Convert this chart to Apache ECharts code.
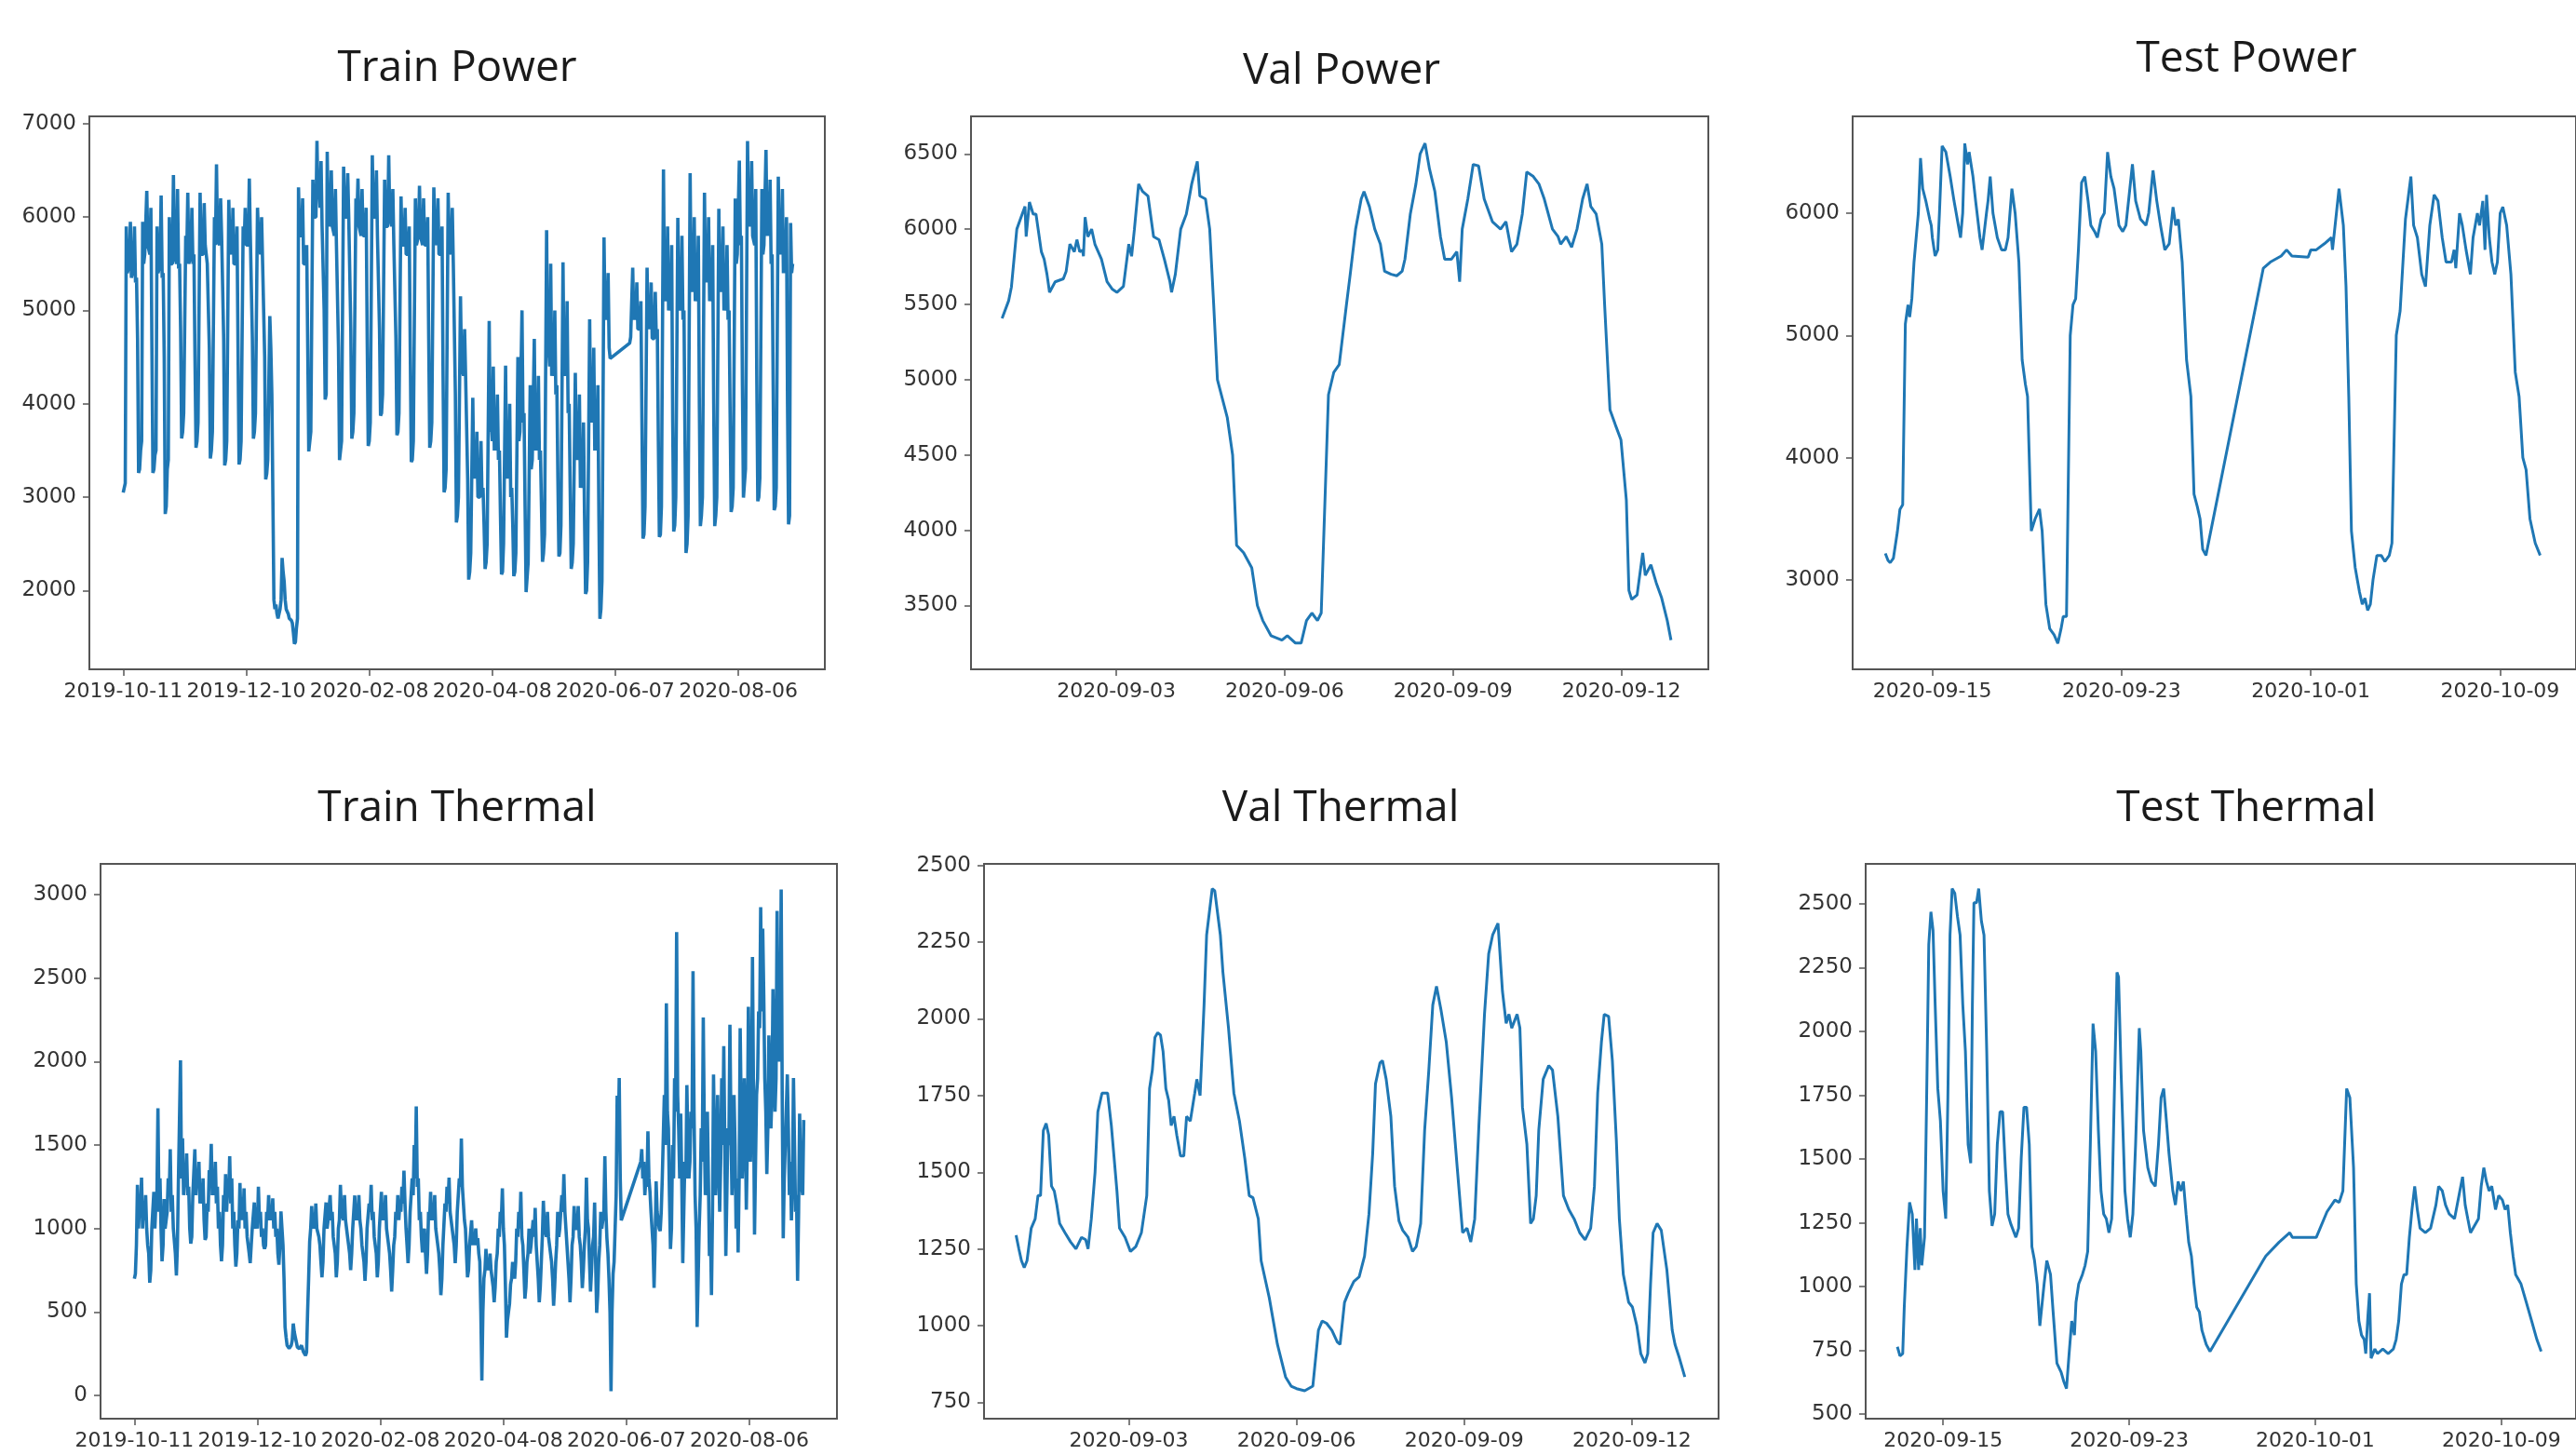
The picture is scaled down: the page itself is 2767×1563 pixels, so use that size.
<!DOCTYPE html>
<html><head><meta charset="utf-8">
<script src="https://cdn.jsdelivr.net/npm/echarts@6/dist/echarts.min.js"></script>
<style>html,body{margin:0;padding:0;background:#fff}#c{width:2767px;height:1563px}</style>
</head><body><div id="c"></div><script>
// ---------------- DATA ----------------
const trainStart = '2019-10-11';
const trainTicks = ['2019-10-11','2019-12-10','2020-02-08','2020-04-08','2020-06-07','2020-08-06'];
const valTicks = ['2020-09-03','2020-09-06','2020-09-09','2020-09-12'];
const testTicks = ['2020-09-15','2020-09-23','2020-10-01','2020-10-09'];

const trainPowerYTicks = [2000,3000,4000,5000,6000,7000];
const valPowerYTicks = [3500,4000,4500,5000,5500,6000,6500];
const testPowerYTicks = [3000,4000,5000,6000];
const trainThermalYTicks = [0,500,1000,1500,2000,2500,3000];
const valThermalYTicks = [750,1000,1250,1500,1750,2000,2250,2500];
const testThermalYTicks = [500,750,1000,1250,1500,1750,2000,2250,2500];

// Train: two readings per day (night = start of day, day = midday).
// Part A = days 0..237, part B = days 247..326 (gap in the record).
const trainGapEndDay = 247;
const trainPowerDayA = [
3100,5900,5450,5950,5400,5900,5350,3260,3500,5950,
5600,6280,5700,6100,3260,3450,5900,5450,6230,5400,
2820,3300,6000,5500,6450,5600,6300,5500,3630,3900,
5800,6260,5500,6100,5600,3530,3800,6260,5600,6150,
5700,5500,3415,3700,6000,6566,5750,6200,5800,3340,
3600,6185,5700,6100,5500,5900,3350,3600,5900,6100,
5700,6413,5800,3626,3900,6100,5800,6000,5500,3190,
3400,4940,4100,1900,1850,1700,1800,2350,2100,1800,
1750,1700,1650,1430,1600,6318,5800,6200,5500,5700,
3490,3700,6400,6000,6817,6300,6600,5900,4046,6700,
6000,6500,5900,6300,5700,3396,3600,6540,6000,6470,
6015,3626,3900,6200,6413,5900,6300,5800,6100,3549,
3800,6662,6000,6500,5800,3873,4100,6400,5900,6662,
6000,6300,5700,3664,3900,6222,5700,6100,5600,5900,
3377,3600,6200,5700,6337,5800,6200,5700,6000,3530,
3800,6318,5800,6200,5600,5900,3053,3300,6260,5700,
6100,5500,2728,3000,5153,4400,4800,4300,2117,2400,
4065,3300,3700,3000,3600,3100,2232,2500,4887,3800,
4400,3600,4100,3500,2173,2500,4408,3300,4000,3100,
2154,2400,4500,3700,5001,3900,1983,2300,4200,3400,
4695,3600,4300,3500,2307,2600,5859,4600,5500,4400,
5000,4200,2365,2700,5516,4400,5100,4000,2232,2500,
4332,3500,4100,3200,3800,1964,2300,4905,3900,4600,
3600,4200,1697,2100,5783,5000,5400,4485];
const trainPowerNightA = [
3050,3150,5400,5500,5350,5450,5300,4700,3300,3600,
5500,5600,5700,5600,4600,3300,3500,5400,5500,5350,
4500,2900,3400,5500,5500,5600,5500,5450,4800,3700,
3900,5600,5500,5600,5500,4500,3600,3800,5600,5600,
5700,5500,4600,3500,3700,5700,5750,5700,5800,4700,
3400,3600,5700,5600,5500,5500,4600,3400,3600,5700,
5700,5700,5800,4700,3700,3900,5800,5600,5500,4500,
3250,3400,4600,3000,1800,1750,1700,1900,2200,1900,
1800,1700,1680,1550,1450,1700,5800,5800,5500,5500,
4600,3500,3700,6000,6000,6200,6100,5900,5000,4100,
6000,5900,5900,5800,5700,4600,3400,3600,6000,6000,
6000,4800,3700,3900,6000,5900,5800,5800,5800,4700,
3600,3800,6000,6000,5800,4800,3900,4100,5900,5900,
6000,5900,5700,4700,3700,3900,5700,5700,5600,5600,
4600,3400,3600,5700,5800,5800,5700,5700,5700,4700,
3600,3800,5800,5700,5600,5600,4300,3100,3300,5700,
5600,5500,4100,2800,3000,4400,4300,4300,3200,2200,
2400,3200,3200,3000,3000,3000,2700,2300,2500,3700,
3600,3500,3500,3400,2800,2200,2500,3200,3200,3000,
2700,2200,2400,3600,3700,3800,2900,2000,2300,3300,
3400,3500,3500,3400,2900,2400,2600,4500,4400,4300,
4300,4100,3200,2400,2700,4300,4300,3900,3100,2300,
2500,3400,3400,3100,3100,2800,2000,2300,3800,3800,
3500,3500,2800,1800,2100,4900,4900,4600];
const trainPowerDayB = [
4714,5459,5000,5300,4800,5100,2556,2900,5459,4900,
5300,4700,5200,4800,2575,2900,6511,5200,5900,5100,
5700,2633,3000,5993,5100,5800,5000,2403,2800,6471,
5300,6000,5200,5800,2690,3000,6260,5400,6000,5200,
5700,2690,3000,6089,5300,5900,5100,5700,5000,2842,
3100,6200,5600,6605,5800,2995,3300,6815,6000,6600,
5800,6300,2957,3200,6300,5700,6720,5900,6400,5600,
2861,3100,6433,5700,6300,5500,6000,2708,5936,5500];
const trainPowerNightB = [
4650,4700,4900,4900,4800,4800,3800,2600,2900,4800,
4800,4700,4700,4700,3600,2600,2900,5100,5100,5000,
5000,3800,2700,3000,5000,5000,4900,3600,2500,2800,
5200,5200,5100,5100,4000,2800,3000,5300,5300,5100,
5100,4000,2800,3000,5200,5200,5000,5000,4900,3900,
2900,3100,5500,5600,5700,4200,3000,3300,5900,5900,
5800,5700,4300,3000,3200,5600,5700,5800,5800,5500,
4200,2900,3100,5600,5600,5400,5400,4000,2800,5400];

const trainThermalDayA = [
729,1262,1134,1305,1150,1200,900,676,1000,1220,
1150,1720,1300,804,1177,1050,1300,1475,1200,1000,
719,1300,2008,1540,1305,1450,1250,910,1200,1475,
1326,1400,1200,1300,932,1150,1350,1507,1305,1400,
1250,1100,804,1200,1326,1250,1433,1300,1100,772,
1050,1273,1150,1241,1100,900,793,1000,1156,1050,
1251,1100,1000,878,1100,1200,1134,1180,1100,1000,
783,1102,900,410,300,282,300,431,350,290,
280,300,260,239,500,921,1134,1050,1150,1000,
900,708,1000,1156,1050,1200,1100,950,708,1000,
1262,1100,1200,1050,900,751,1000,1198,1100,1200,
1000,850,687,1000,1150,1262,1100,950,708,1000,
1220,1100,1200,1000,850,623,900,1100,1200,1150,
1250,1347,1000,793,1100,1300,1500,1731,1300,1100,
857,1000,729,1100,1220,1100,1200,1000,850,601,
900,1150,1250,1305,1100,1000,793,1100,1300,1539,
1250,1000,708,900,1049,950,1000,942,800,90,
700,878,800,850,750,559,800,1000,1100,1241,
900,346,500,665,800,700,1000,1100,1220,900,
580,800,1000,900,1050,1124,800,559,800,1166,
1000,1100,950,800,538,800,1100,1000,1200,1326,
1000,800,559,900,1134,1000,1134,900,644,900,
1305,1000,623,900,1156,495,800,1100,1000,1433,
942,700,26,729,1000,1795,1901,1049];
const trainThermalNightA = [
700,900,1000,1100,1000,1050,1000,850,750,1000,
1000,1200,1100,1000,900,1000,1100,1200,1100,1000,
850,900,1300,1300,1200,1250,1200,1000,950,1200,
1200,1250,1150,1150,1050,950,1100,1300,1200,1200,
1150,1000,900,900,1100,1100,1200,1150,1000,900,
850,1000,1050,1050,1000,950,850,900,1000,1000,
1000,1050,950,900,900,1050,1050,1050,1000,950,
850,900,1000,700,350,290,280,330,380,320,
280,290,280,250,260,700,1000,1000,1000,1000,
950,800,800,1000,1000,1050,1050,950,850,800,
1050,1100,1050,1050,950,850,850,1000,1050,1050,
1050,900,800,800,1000,1100,1050,950,850,800,
1000,1050,1050,1000,900,750,750,950,1050,1050,
1100,1150,1150,900,900,1100,1200,1300,1250,1050,
950,850,850,850,1050,1050,1050,1000,900,750,
700,900,1100,1150,1100,1000,900,900,1100,1250,
1250,1050,850,750,900,900,900,900,850,500,
500,750,750,750,750,650,650,850,950,1050,
1000,650,450,550,700,750,800,950,1000,950,
750,650,850,850,900,950,900,700,650,950,
1000,950,950,850,700,650,900,950,1000,1100,
1100,900,700,700,950,1000,1000,950,800,750,
1000,1050,800,750,950,800,600,900,1000,1100,
1100,850,500,500,800,1200,1500,1300];
const trainThermalDayB = [
1475,1400,1300,1582,1220,1000,644,1283,1100,985,
1300,1800,2349,1600,878,1500,1900,2775,1600,1688,
793,1400,1859,1300,1700,2541,1200,410,1000,1600,
2264,1200,1700,836,601,1923,1200,1800,1100,1900,
2093,836,1600,2221,1200,1800,1000,857,2200,1300,
1900,1113,2328,1400,2626,964,1800,2300,2924,2796,
1900,1326,2157,1600,2434,1700,2903,2000,3031,942,
1500,1923,1200,1049,1901,1100,687,1688,1300,1650];
const trainThermalNightB = [
1400,1300,1200,1250,1300,1100,900,900,1100,1000,
1100,1300,1500,1700,1200,1000,1300,1700,1800,1300,
1300,1100,1300,1500,1400,1600,1700,1000,700,1200,
1400,1600,1400,1300,1000,1100,1500,1400,1400,1400,
1500,1500,1200,1500,1600,1400,1500,1300,1300,1700,
1500,1600,1500,1900,1700,1800,1400,1900,2200,2300,
2400,1700,1600,1900,1800,2100,1900,2100,2100,1800,
1300,1500,1600,1400,1300,1500,1200,1100,1300,1200];

// Val / Test: [hours since series start, value]
const valPowerStart = '2020-08-31T23:08:00Z';
const valPower = [[0,5407],[2.8,5524],[4.0,5616],[6.3,6000],[8.6,6100],[9.8,6150],[10.3,5950],[11.7,6180],[13.3,6100],[14.5,6100],[16.8,5850],[18.0,5800],[19.2,5700],[20.3,5580],[22.7,5650],[26.2,5670],[27.4,5720],[29.0,5900],[30.9,5850],[32.0,5930],[33.2,5850],[34.4,5860],[34.8,5820],[35.5,6080],[36.7,5950],[38.3,6000],[39.7,5900],[42.5,5800],[44.9,5650],[47.2,5600],[49.1,5580],[51.9,5620],[54.2,5900],[55.4,5820],[56.6,6000],[58.4,6300],[60.1,6250],[62.4,6220],[64.8,5950],[67.1,5930],[69.4,5800],[71.8,5650],[72.5,5580],[74.1,5700],[76.4,6000],[78.8,6100],[81.1,6300],[83.5,6450],[84.6,6220],[87.0,6200],[88.8,6000],[90.5,5500],[92.1,5000],[96.3,4750],[98.6,4500],[100.3,3900],[103.3,3850],[106.8,3750],[109.2,3500],[111.5,3400],[115.0,3300],[119.7,3270],[122.0,3300],[125.5,3250],[127.9,3250],[130.2,3400],[132.5,3450],[134.9,3400],[136.5,3450],[139.6,4900],[141.9,5050],[144.2,5100],[147.3,5500],[148.9,5700],[151.2,6000],[153.6,6200],[154.8,6250],[157.1,6150],[159.4,6000],[161.8,5900],[163.6,5720],[166.4,5700],[168.8,5690],[171.1,5720],[172.3,5800],[174.6,6100],[177.0,6300],[178.8,6500],[180.9,6570],[182.8,6400],[185.1,6250],[187.5,5950],[189.3,5800],[192.2,5800],[194.5,5850],[195.7,5650],[196.8,6000],[199.2,6200],[201.5,6430],[203.8,6420],[206.2,6200],[209.7,6050],[213.2,6000],[215.5,6050],[217.9,5850],[220.2,5900],[222.5,6100],[224.4,6380],[227.2,6350],[229.6,6300],[231.9,6200],[235.4,6000],[237.8,5950],[238.9,5900],[241.3,5950],[243.6,5880],[245.9,6000],[248.3,6200],[250.2,6300],[251.8,6150],[254.1,6100],[256.5,5900],[257.7,5500],[260.0,4800],[262.3,4700],[264.7,4600],[267.0,4200],[268.1,3600],[269.3,3540],[271.6,3570],[274.0,3850],[275.1,3700],[277.5,3770],[279.8,3650],[282.1,3550],[284.5,3400],[286.1,3270]];

const valThermalStart = '2020-08-31T23:36:00Z';
const valThermal = [[0,1295],[1.2,1250],[2.3,1212],[3.5,1189],[4.7,1212],[6.5,1318],[8.2,1348],[9.4,1424],[10.5,1424],[11.7,1636],[12.9,1659],[14.0,1621],[15.2,1455],[16.4,1439],[17.5,1394],[18.7,1333],[21.0,1303],[23.4,1273],[25.7,1250],[28.1,1288],[29.9,1280],[30.9,1250],[32.3,1348],[33.9,1500],[35.1,1697],[36.9,1758],[39.3,1758],[40.9,1652],[43.3,1439],[44.4,1318],[46.8,1288],[49.1,1242],[51.4,1258],[53.8,1303],[56.1,1424],[57.3,1773],[58.5,1833],[59.6,1939],[60.8,1955],[62.0,1947],[63.1,1894],[64.3,1773],[65.5,1735],[66.6,1652],[67.8,1682],[69.0,1621],[70.6,1553],[72.0,1553],[73.2,1682],[74.8,1667],[76.7,1758],[77.6,1803],[79.0,1750],[80.7,2045],[81.8,2273],[84.2,2424],[85.3,2417],[87.7,2273],[88.8,2152],[91.2,1970],[93.5,1758],[95.9,1667],[98.2,1545],[100.1,1424],[101.7,1417],[104.0,1348],[105.2,1212],[108.7,1091],[112.2,939],[115.7,833],[118.1,803],[120.4,795],[123.9,788],[127.4,803],[129.8,985],[131.4,1015],[133.3,1008],[135.6,985],[137.9,947],[139.1,939],[141.0,1076],[142.6,1106],[145.0,1144],[147.3,1159],[149.6,1227],[151.5,1364],[153.1,1561],[154.3,1788],[156.2,1856],[157.3,1864],[158.9,1803],[160.9,1682],[162.5,1455],[164.4,1341],[166.0,1311],[168.3,1288],[170.2,1242],[171.8,1258],[173.7,1333],[175.4,1636],[177.2,1833],[178.9,2045],[180.5,2106],[182.4,2030],[184.7,1924],[187.0,1742],[189.4,1515],[191.7,1303],[193.6,1318],[195.2,1273],[196.9,1348],[198.7,1652],[201.1,2015],[202.9,2212],[204.6,2273],[206.9,2311],[208.8,2091],[210.4,1985],[211.6,2015],[212.8,1970],[215.1,2015],[216.3,1970],[217.4,1712],[219.3,1591],[220.9,1333],[222.1,1348],[223.3,1424],[224.4,1636],[226.3,1803],[228.7,1848],[230.3,1833],[232.6,1682],[235.0,1424],[237.3,1379],[239.6,1348],[242.0,1303],[244.3,1280],[246.7,1318],[248.3,1455],[249.7,1758],[251.3,1924],[252.5,2015],[254.4,2008],[256.0,1864],[257.7,1606],[259.0,1348],[260.7,1167],[263.0,1076],[264.6,1061],[266.5,1000],[268.2,909],[270.0,879],[271.2,909],[272.4,1136],[273.5,1303],[275.2,1333],[277.0,1311],[279.4,1182],[281.7,985],[282.9,939],[284.8,894],[287.1,833]];

const testPowerStart = '2020-09-13T00:18:00Z';
const testPower = [[0,3216],[2.7,3159],[4.9,3140],[8.2,3178],[12.1,3387],[14.8,3576],[17.6,3614],[20.3,5093],[23.0,5250],[24.7,5150],[26.9,5300],[29.1,5600],[31.3,5800],[33.5,6000],[35.7,6450],[37.9,6200],[41.1,6100],[45.0,5950],[46.6,5900],[47.7,5800],[50.5,5650],[53.2,5700],[54.9,6000],[57.6,6550],[61.4,6500],[65.8,6300],[69.7,6100],[74.1,5900],[76.3,5800],[78.5,6000],[80.6,6570],[83.4,6400],[85.0,6500],[88.9,6300],[91.6,6100],[96.0,5800],[98.2,5700],[99.8,5700],[102.6,6000],[104.2,6100],[106.4,6300],[109.2,6000],[113.6,5800],[117.9,5700],[121.8,5700],[124.5,5800],[128.4,6200],[131.7,6000],[135.5,5600],[138.8,4800],[142.1,4600],[144.3,4500],[148.1,3400],[152.0,3500],[156.4,3580],[159.1,3400],[162.9,2800],[166.8,2600],[171.2,2550],[175.0,2480],[178.3,2600],[180.5,2700],[183.8,2700],[187.6,5000],[190.4,5250],[193.1,5300],[195.9,5700],[199.1,6250],[202.4,6300],[205.7,6100],[208.5,5900],[212.3,5850],[215.1,5800],[218.9,5950],[222.2,6000],[225.5,6500],[228.8,6300],[232.1,6200],[237.0,5900],[240.8,5850],[244.1,5900],[250.7,6400],[254.0,6100],[258.9,5950],[264.4,5900],[267.2,6000],[271.6,6350],[275.4,6100],[279.2,5900],[283.6,5700],[288.0,5750],[291.9,6050],[294.6,5900],[297.3,5950],[301.2,5600],[305.6,4800],[310.0,4500],[313.2,3700],[316.5,3600],[319.3,3500],[322.0,3250],[325.3,3200],[383.5,5550],[390.6,5600],[401.6,5650],[407.1,5700],[412.5,5650],[429.0,5640],[431.7,5700],[437.2,5700],[445.5,5750],[452.6,5800],[453.7,5700],[460.3,6200],[464.7,5900],[467.4,5400],[470.2,4500],[472.9,3400],[476.7,3100],[478.9,3000],[481.1,2900],[483.9,2800],[486.6,2850],[489.4,2750],[492.1,2800],[494.8,3000],[498.7,3200],[503.1,3200],[506.9,3150],[511.3,3200],[514.0,3300],[518.4,5000],[522.3,5200],[527.7,5950],[533.2,6300],[536.0,5900],[539.8,5800],[544.2,5500],[548.0,5400],[552.4,5900],[556.8,6150],[560.7,6100],[565.0,5800],[568.9,5600],[574.4,5600],[577.1,5700],[578.8,5550],[582.6,6000],[585.4,5900],[589.2,5700],[593.6,5500],[596.3,5800],[600.7,6000],[602.9,5900],[606.2,6100],[608.4,5700],[610.0,6150],[612.8,5800],[615.5,5600],[618.3,5500],[621.0,5600],[623.8,6000],[626.5,6050],[630.4,5900],[634.7,5500],[639.1,4700],[643.0,4500],[646.8,4000],[650.1,3900],[654.0,3500],[659.4,3300],[664.4,3200]];

const testThermalStart = '2020-09-13T00:48:00Z';
const testThermal = [[0,764],[2.7,728],[5.5,737],[7.1,919],[9.9,1156],[12.6,1330],[15.4,1284],[18.1,1065],[19.7,1266],[21.9,1065],[23.6,1229],[25.2,1083],[28.0,1193],[30.2,1740],[32.4,2341],[34.6,2469],[36.8,2396],[39.0,2104],[41.7,1776],[44.4,1649],[47.2,1375],[49.9,1266],[52.1,1740],[54.3,2378],[56.5,2560],[59.2,2542],[62.0,2451],[64.7,2378],[67.5,2104],[70.2,1922],[73.0,1557],[75.7,1484],[77.4,2104],[79.0,2505],[81.7,2505],[83.9,2560],[86.7,2433],[89.4,2378],[92.2,1922],[94.9,1375],[97.7,1238],[100.4,1284],[103.1,1557],[105.9,1685],[108.6,1685],[111.4,1466],[114.1,1284],[116.9,1247],[122.3,1193],[125.1,1229],[127.8,1503],[130.6,1703],[133.3,1703],[136.1,1557],[138.8,1156],[141.5,1102],[144.3,1010],[147.0,846],[148.7,846],[151.4,1010],[154.2,1102],[158.0,1047],[160.7,901],[164.6,700],[169.0,664],[171.7,628],[174.5,600],[177.2,737],[179.9,865],[182.7,810],[184.3,938],[187.1,1010],[190.9,1047],[193.7,1083],[196.4,1138],[199.1,1557],[201.9,2031],[204.6,1922],[207.4,1612],[210.1,1375],[212.9,1284],[215.6,1266],[218.3,1211],[221.1,1266],[223.8,1740],[226.6,2232],[228.2,2214],[230.9,1831],[234.8,1375],[237.5,1266],[240.3,1193],[243.0,1284],[245.8,1557],[249.6,2013],[251.2,1922],[254.0,1612],[258.4,1466],[262.2,1412],[266.1,1393],[269.4,1557],[272.1,1740],[274.8,1776],[277.6,1649],[280.3,1521],[284.2,1375],[286.9,1320],[289.7,1412],[292.4,1375],[295.1,1412],[297.9,1284],[300.6,1174],[303.4,1120],[306.1,1010],[308.9,919],[311.6,901],[314.3,828],[318.7,773],[322.6,746],[377.4,1102],[380.2,1120],[393.9,1174],[404.9,1211],[407.6,1193],[418.6,1193],[432.3,1193],[443.3,1293],[451.5,1339],[455.9,1330],[459.7,1375],[463.6,1776],[466.9,1740],[470.7,1466],[473.5,1010],[476.2,865],[478.9,810],[481.7,792],[483.3,737],[485.5,883],[487.2,974],[488.8,719],[492.7,755],[495.4,737],[500.9,755],[506.4,737],[511.8,755],[514.6,792],[517.3,865],[520.1,1010],[522.8,1047],[525.5,1047],[528.3,1193],[531.0,1302],[533.8,1393],[536.5,1302],[539.3,1229],[544.8,1211],[550.2,1229],[555.7,1320],[558.5,1393],[562.3,1375],[565.6,1320],[569.5,1284],[574.9,1266],[580.4,1375],[583.2,1430],[585.9,1320],[588.6,1266],[591.4,1211],[594.1,1229],[599.6,1266],[602.4,1393],[605.1,1466],[607.8,1412],[610.6,1375],[613.3,1393],[617.2,1302],[620.5,1357],[624.3,1339],[627.1,1302],[629.8,1320],[632.5,1211],[635.3,1120],[638.0,1047],[643.5,1010],[649.0,938],[654.5,865],[659.9,792],[664.3,746]];

// ---------------- HELPERS ----------------
const DAY = 86400000, HOUR = 3600000;
function utc(s){ return Date.parse(s.length === 10 ? s + 'T00:00:00Z' : s); }
function twiceDaily(startISO, firstDay, night, day){
  const t0 = utc(startISO) + firstDay * DAY, out = [];
  for (let i = 0; i < day.length; i++){ out.push([t0 + i*DAY, night[i]]); out.push([t0 + (i + 0.5)*DAY, day[i]]); }
  return out;
}
function hourly(baseISO, pairs){ const t0 = utc(baseISO); return pairs.map(p=>[t0 + p[0]*HOUR, p[1]]); }
function fmtDate(v){ const d = new Date(v); const p = n => String(n).padStart(2,'0'); return d.getUTCFullYear() + '-' + p(d.getUTCMonth()+1) + '-' + p(d.getUTCDate()); }

const panels = [
  {title:'Train Power', tx:486, ty:46, g:[96,125,790,594], ticks:trainTicks, xr:[-16.5,342.2], yr:[1156,7079], yt:trainPowerYTicks, lw:3.6,
   data: twiceDaily(trainStart,0,trainPowerNightA,trainPowerDayA).concat(twiceDaily(trainStart,trainGapEndDay,trainPowerNightB,trainPowerDayB))},
  {title:'Val Power', tx:1436, ty:49, g:[1043,125,792,594], ticks:valTicks, xr:[-2.59,10.55], yr:[3076,6749], yt:valPowerYTicks, lw:3,
   data: hourly(valPowerStart,valPower)},
  {title:'Test Power', tx:2408, ty:36, g:[1990,125,787,594], ticks:testTicks, xr:[-3.37,27.21], yr:[2268,6792], yt:testPowerYTicks, lw:3,
   data: hourly(testPowerStart,testPower)},
  {title:'Train Thermal', tx:486, ty:841, g:[108,928,791,596], ticks:trainTicks, xr:[-16.5,342.7], yr:[-139,3184], yt:trainThermalYTicks, lw:3.6,
   data: twiceDaily(trainStart,0,trainThermalNightA,trainThermalDayA).concat(twiceDaily(trainStart,trainGapEndDay,trainThermalNightB,trainThermalDayB))},
  {title:'Val Thermal', tx:1435, ty:841, g:[1057,928,789,596], ticks:valTicks, xr:[-2.59,10.55], yr:[697,2505], yt:valThermalYTicks, lw:3,
   data: hourly(valThermalStart,valThermal)},
  {title:'Test Thermal', tx:2408, ty:841, g:[2004,928,786,596], ticks:testTicks, xr:[-3.33,27.21], yr:[482,2657], yt:testThermalYTicks, lw:3,
   data: hourly(testThermalStart,testThermal)}
];

const FRAME = '#555', LABEL = '#333', LINE = '#1f77b4';
const option = {animation:false, title:[], grid:[], xAxis:[], yAxis:[], series:[]};
panels.forEach((p,i)=>{
  const t0 = utc(p.ticks[0]);
  const xt = p.ticks.map(utc);
  option.title.push({text:p.title, left:p.tx, top:p.ty, textAlign:'center',
    textStyle:{fontFamily:'Open Sans', fontSize:46, fontWeight:'normal', color:'#1a1a1a'}});
  option.grid.push({left:p.g[0], top:p.g[1], width:p.g[2], height:p.g[3], show:true, borderColor:FRAME, borderWidth:2, backgroundColor:'#fff'});
  option.xAxis.push({type:'value', gridIndex:i, min:t0 + p.xr[0]*DAY, max:t0 + p.xr[1]*DAY,
    axisLine:{show:true, onZero:false, lineStyle:{color:FRAME, width:2}},
    axisTick:{show:true, customValues:xt, length:7, lineStyle:{color:FRAME, width:1.5}},
    axisLabel:{customValues:xt, formatter:fmtDate, fontFamily:'DejaVu Sans', fontSize:22, color:LABEL, margin:13,
      hideOverlap:false, showMinLabel:true, showMaxLabel:true},
    splitLine:{show:false}});
  option.yAxis.push({type:'value', gridIndex:i, min:p.yr[0], max:p.yr[1],
    axisLine:{show:true, onZero:false, lineStyle:{color:FRAME, width:2}},
    axisTick:{show:true, customValues:p.yt, length:7, lineStyle:{color:FRAME, width:1.5}},
    axisLabel:{customValues:p.yt, formatter:v=>String(Math.round(v)), fontFamily:'DejaVu Sans', fontSize:23, color:LABEL, margin:14,
      showMinLabel:true, showMaxLabel:true},
    splitLine:{show:false}});
  option.series.push({type:'line', xAxisIndex:i, yAxisIndex:i, data:p.data, showSymbol:false, symbol:'none',
    lineStyle:{color:LINE, width:p.lw}, emphasis:{disabled:true}, silent:true});
});
const chart = echarts.init(document.getElementById('c'), null, {renderer:'canvas'});
chart.setOption(option);
</script></body></html>
